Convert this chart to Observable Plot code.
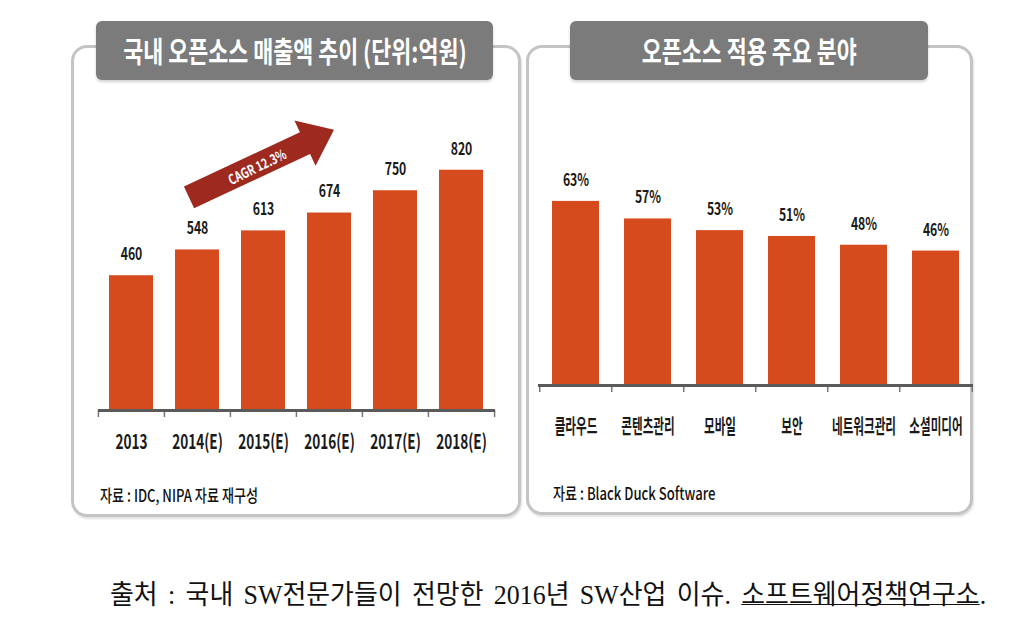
<!DOCTYPE html>
<html><head><meta charset="utf-8">
<script src="https://cdn.jsdelivr.net/npm/d3@7"></script>
<script src="https://cdn.jsdelivr.net/npm/@observablehq/plot@0.6"></script>
<style>
body{margin:0;background:#fff;width:1020px;height:639px;position:relative;overflow:hidden;font-family:"Noto Sans CJK KR","Noto Sans",sans-serif;}
.panel{position:absolute;border:3px solid #c4c4c4;border-radius:16px;box-shadow:1px 2px 2px rgba(0,0,0,0.12);box-sizing:border-box;background:#fff;}
.title{position:absolute;background:#7b7b7b;border-radius:6px;color:#fff;font-weight:700;display:flex;align-items:center;justify-content:center;box-shadow:0 2px 3px rgba(0,0,0,0.18);}
.title span{display:inline-block;transform:scaleX(0.75);white-space:nowrap;font-size:29px;line-height:1;}
.chart{position:absolute;}
.src{position:absolute;font-size:17px;line-height:1;transform-origin:left center;transform:scaleX(0.77);white-space:nowrap;color:#111;font-weight:500;}
.caption{position:absolute;left:110px;top:582px;font-family:"Liberation Serif","Noto Sans CJK KR",serif;font-size:27px;word-spacing:4px;line-height:1;white-space:pre;color:#111;transform-origin:left top;transform:scaleX(0.96);}
.caption u{text-decoration:underline;text-underline-offset:0px;text-decoration-thickness:1px;}
</style>
</head><body>
<div class="panel" style="left:71px;top:45px;width:450px;height:472px"></div>
<div class="panel" style="left:526px;top:45px;width:447px;height:470px"></div>
<div class="title" style="left:96px;top:21px;width:397px;height:59px"><span>국내 오픈소스 매출액 추이 (단위:억원)</span></div>
<div class="title" style="left:570px;top:21px;width:358px;height:59px"><span>오픈소스 적용 주요 분야</span></div>
<div class="chart" id="left" style="left:72px;top:100px"></div>
<div class="chart" id="right" style="left:527px;top:100px"></div>
<div class="src" style="left:100px;top:486px">자료 : IDC, NIPA 자료 재구성</div>
<div class="src" style="left:553px;top:484px">자료 : Black Duck Software</div>
<div class="caption">출처 : 국내 SW전문가들이 전망한 2016년 SW산업 이슈. <u>소프트웨어정책연구소</u>.</div>
<script>
// ---- data ----
const years = ["2013", "2014(E)", "2015(E)", "2016(E)", "2017(E)", "2018(E)"];
const sales = [460, 548, 613, 674, 750, 820];
const fields = ["클라우드", "콘텐츠관리", "모바일", "보안", "네트워크관리", "소셜미디어"];
const shares = [63, 57, 53, 51, 48, 46];
const cagrLabel = "CAGR 12.3%";

const BAR = "#d64b1e";
const AXIS = "#5a5a5a";
const FONT = "'Noto Sans CJK KR', 'Noto Sans', sans-serif";

// squeeze text horizontally (the original uses a condensed face)
function condense(svg, texts, k) {
  const set = new Set(texts.map(String));
  svg.querySelectorAll("text").forEach(t => {
    if (!set.has(t.textContent)) return;
    const len = t.getComputedTextLength();
    t.setAttribute("textLength", (len * k).toFixed(1));
    t.setAttribute("lengthAdjust", "spacingAndGlyphs");
  });
}

// filled block-arrow symbol, pointing along angle (degrees)
function blockArrow(len, body, head, headLen, angleDeg) {
  const a = angleDeg * Math.PI / 180, c = Math.cos(a), s = Math.sin(a);
  const h = len / 2, b = body / 2, w = head / 2;
  const pts = [[-h, -b], [h - headLen, -b], [h - headLen, -w], [h, 0], [h - headLen, w], [h - headLen, b], [-h, b]];
  return {
    draw(ctx) {
      pts.forEach(([x, y], i) => {
        const X = x * c - y * s, Y = x * s + y * c;
        i ? ctx.lineTo(X, Y) : ctx.moveTo(X, Y);
      });
      ctx.closePath();
    }
  };
}

// ---- left chart ----
{
  const W = 446, H = 360, mL = 26, mR = 23;
  const bw = (W - mL - mR) / years.length;
  const data = years.map((y, i) => ({year: y, value: sales[i]}));
  const chart = Plot.plot({
    width: W, height: H, marginLeft: mL, marginRight: mR, marginTop: 17, marginBottom: 50,
    style: {fontFamily: FONT, background: "transparent", overflow: "visible"},
    x: {domain: years, paddingInner: 0.33, paddingOuter: 0.165, axis: null},
    y: {domain: [0, 1000], axis: null},
    marks: [
      Plot.barY(data, {x: "year", y: "value", fill: BAR}),
      Plot.ruleX(years, {x: d => d, y1: 0, y2: -24, dx: -bw / 2, stroke: "#777", strokeWidth: 1.5}),
      Plot.ruleX([years[years.length - 1]], {x: d => d, y1: 0, y2: -24, dx: bw / 2, stroke: "#777", strokeWidth: 1.5}),
      Plot.ruleY([0], {stroke: AXIS, strokeWidth: 3}),
      Plot.text(data, {x: "year", y: "value", text: d => String(d.value), dy: -21, lineAnchor: "middle",
        fontSize: 17, fontWeight: "bold", fill: "#1a1a1a"}),
      Plot.text(years, {x: d => d, y: () => 0, text: d => d, dy: 32, lineAnchor: "middle",
        fontSize: 20, fontWeight: "bold", fill: "#1a1a1a"}),
      Plot.dot([cagrLabel], {x: () => "2015(E)", y: () => 843, dx: -2, r: 10,
        symbol: blockArrow(160, 24, 50, 32, -25), fill: "#9e2a1f", stroke: "none"}),
      Plot.text([cagrLabel], {x: () => "2015(E)", y: () => 843, text: d => d, dx: -6, dy: 4, rotate: -26,
        fontSize: 14, fontWeight: "bold", fill: "#fff", lineAnchor: "middle"})
    ]
  });
  document.getElementById("left").appendChild(chart);
  condense(chart, sales, 0.72);
  condense(chart, years, 0.68);
  condense(chart, [cagrLabel], 0.75);
}

// ---- right chart ----
{
  const W = 447, H = 360, mL = 11, mR = 1;
  const bw = (W - mL - mR) / fields.length;
  const data = fields.map((f, i) => ({field: f, value: shares[i]}));
  const chart = Plot.plot({
    width: W, height: H, marginLeft: mL, marginRight: mR, marginTop: 22, marginBottom: 75,
    style: {fontFamily: FONT, background: "transparent", overflow: "visible"},
    x: {domain: fields, paddingInner: 0.35, paddingOuter: 0.175, axis: null},
    y: {domain: [0, 90], axis: null},
    marks: [
      Plot.barY(data, {x: "field", y: "value", fill: BAR}),
      Plot.ruleX(fields, {x: d => d, y1: 0, y2: -2.4, dx: -bw / 2, stroke: "#777", strokeWidth: 1.5}),
      Plot.ruleX([fields[fields.length - 1]], {x: d => d, y1: 0, y2: -2.4, dx: bw / 2, stroke: "#777", strokeWidth: 1.5}),
      Plot.ruleY([0], {stroke: AXIS, strokeWidth: 3}),
      Plot.text(data, {x: "field", y: "value", text: d => d.value + "%", dy: -21, lineAnchor: "middle",
        fontSize: 17, fontWeight: "bold", fill: "#1a1a1a"}),
      Plot.text(fields, {x: d => d, y: () => 0, text: d => d, dy: 42, lineAnchor: "middle",
        fontSize: 20, fontWeight: "bold", fill: "#1a1a1a"})
    ]
  });
  document.getElementById("right").appendChild(chart);
  condense(chart, shares.map(v => v + "%"), 0.72);
  condense(chart, fields, 0.58);
}
</script>
</body></html>
